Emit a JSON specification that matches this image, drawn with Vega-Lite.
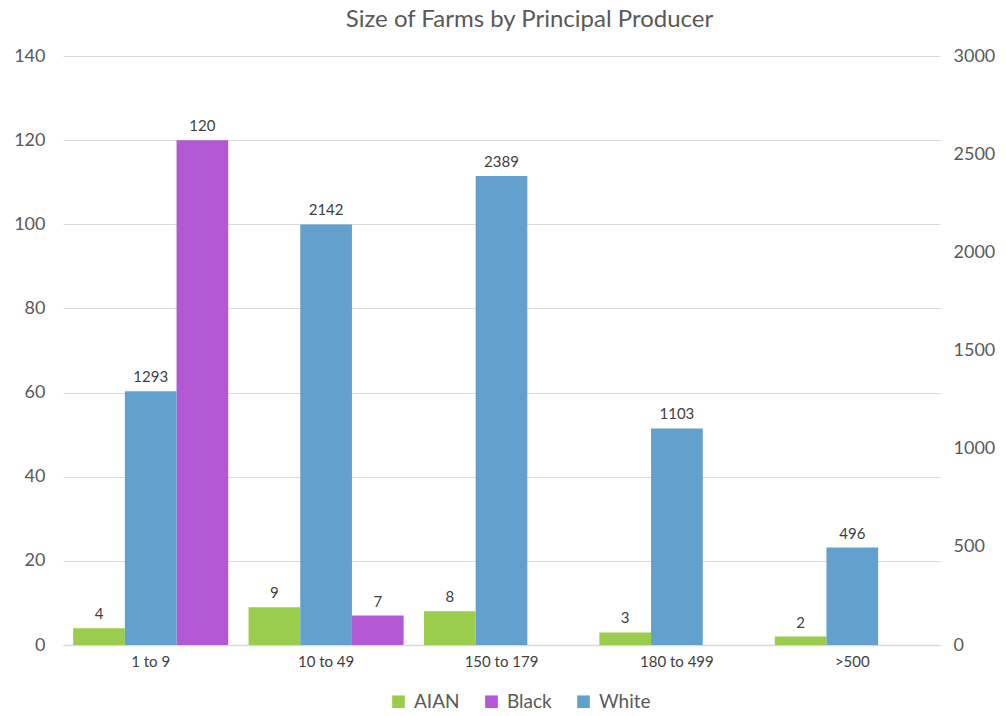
{
  "$schema": "https://vega.github.io/schema/vega-lite/v6.json",
  "autosize": {"type": "none"},
  "width": 877,
  "height": 589,
  "padding": {"left": 63, "top": 56, "right": 66, "bottom": 71},
  "background": "white",
  "title": {
    "text": "Size of Farms by Principal Producer",
    "anchor": "middle",
    "frame": "group",
    "fontSize": 24,
    "font": "Lato",
    "fontWeight": "normal",
    "color": "#595959",
    "offset": 15,
    "dx": 28
  },
  "config": {
    "view": {"stroke": null},
    "font": "Lato"
  },
  "data": {
    "values": [
      {"size": "1 to 9", "group": "AIAN", "value": 4},
      {"size": "1 to 9", "group": "Black", "value": 120},
      {"size": "1 to 9", "group": "White", "value": 1293},
      {"size": "10 to 49", "group": "AIAN", "value": 9},
      {"size": "10 to 49", "group": "Black", "value": 7},
      {"size": "10 to 49", "group": "White", "value": 2142},
      {"size": "150 to 179", "group": "AIAN", "value": 8},
      {"size": "150 to 179", "group": "White", "value": 2389},
      {"size": "180 to 499", "group": "AIAN", "value": 3},
      {"size": "180 to 499", "group": "White", "value": 1103},
      {"size": ">500", "group": "AIAN", "value": 2},
      {"size": ">500", "group": "White", "value": 496}
    ]
  },
  "encoding": {
    "x": {
      "field": "size",
      "type": "nominal",
      "sort": ["1 to 9", "10 to 49", "150 to 179", "180 to 499", ">500"],
      "scale": {"paddingInner": 0.116, "paddingOuter": 0.058},
      "axis": {
        "title": null,
        "labelAngle": 0,
        "labelFontSize": 15,
        "labelColor": "#404040",
        "labelPadding": 9,
        "ticks": false,
        "domainColor": "#d9d9d9",
        "domainWidth": 1.5
      }
    },
    "xOffset": {
      "field": "group",
      "type": "nominal",
      "scale": {"domain": ["AIAN", "White", "Black"], "paddingInner": 0, "paddingOuter": 0}
    },
    "color": {
      "field": "group",
      "type": "nominal",
      "scale": {"domain": ["AIAN", "Black", "White"], "range": ["#9bcd4c", "#b258d4", "#62a0cd"]},
      "legend": {
        "title": null,
        "orient": "none",
        "direction": "horizontal",
        "legendX": 326,
        "legendY": 636,
        "symbolType": "square",
        "symbolSize": 160,
        "symbolStrokeWidth": 0,
        "labelFontSize": 19,
        "labelColor": "#595959",
        "columnPadding": 22,
        "labelOffset": 6
      }
    }
  },
  "layer": [
    {
      "transform": [{"filter": "datum.group != 'White'"}],
      "encoding": {
        "y": {
          "field": "value",
          "type": "quantitative",
          "scale": {"domain": [0, 140], "nice": false},
          "axis": {
            "title": null,
            "values": [0, 20, 40, 60, 80, 100, 120, 140],
            "labelFontSize": 18,
            "labelColor": "#595959",
            "labelPadding": 18,
            "ticks": false,
            "domain": false,
            "gridColor": "#d9d9d9",
            "gridWidth": 1.2
          }
        }
      },
      "layer": [
        {"mark": {"type": "bar", "width": {"band": 1}}},
        {
          "mark": {"type": "text", "dy": -9, "baseline": "alphabetic", "fontSize": 15, "color": "#404040"},
          "encoding": {"text": {"field": "value", "type": "quantitative"}, "color": {"value": "#404040"}}
        }
      ]
    },
    {
      "transform": [{"filter": "datum.group == 'White'"}],
      "encoding": {
        "y": {
          "field": "value",
          "type": "quantitative",
          "scale": {"domain": [0, 3000], "nice": false},
          "axis": {
            "title": null,
            "orient": "right",
            "format": "d",
            "values": [0, 500, 1000, 1500, 2000, 2500, 3000],
            "labelFontSize": 18,
            "labelColor": "#595959",
            "labelPadding": 13,
            "ticks": false,
            "domain": false,
            "grid": false
          }
        }
      },
      "layer": [
        {"mark": {"type": "bar", "width": {"band": 1}}},
        {
          "mark": {"type": "text", "dy": -9, "baseline": "alphabetic", "fontSize": 15, "color": "#404040"},
          "encoding": {"text": {"field": "value", "type": "quantitative", "format": "d"}, "color": {"value": "#404040"}}
        }
      ]
    }
  ],
  "resolve": {"scale": {"y": "independent"}, "axis": {"y": "independent"}}
}
